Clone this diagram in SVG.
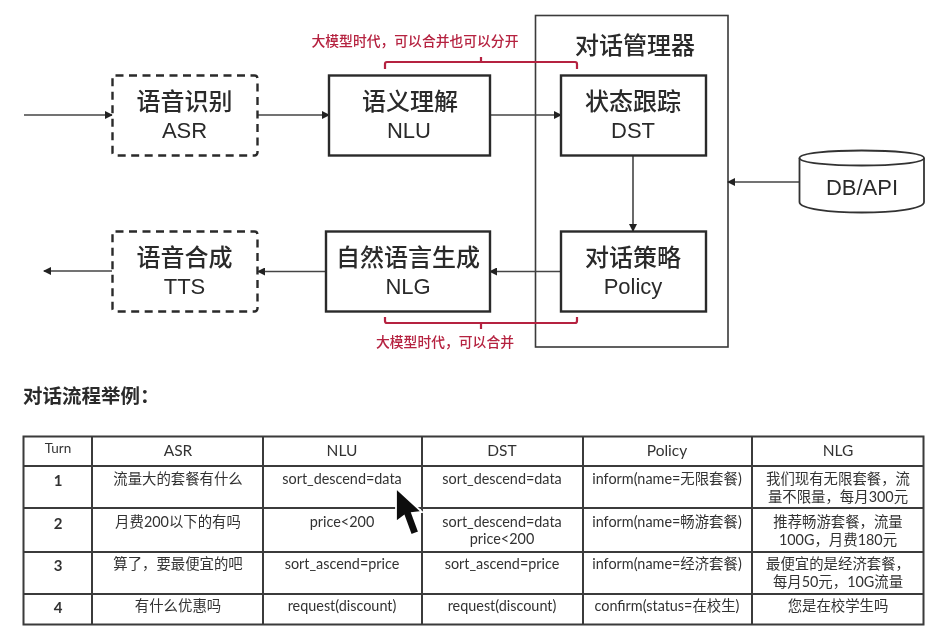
<svg xmlns="http://www.w3.org/2000/svg" width="935" height="642" viewBox="0 0 935 642">
<style>
text{font-family:"Liberation Sans","Noto Sans CJK SC",sans-serif;fill:#2b2b2b;text-anchor:middle}
.n{font-size:24px;font-weight:500}
.e{font-size:22px}
.box{fill:#fff;stroke:#2a2a2a;stroke-width:2.400}
.dash{stroke-dasharray:8 5.500}
.c{fill:none;stroke:#444;stroke-width:1.600}
.r{fill:none;stroke:#b5213f;stroke-width:2.200}
.rt{font-size:13.800px;fill:#b5213f;font-weight:500}
.t{font-family:"Lato","Noto Sans CJK SC",sans-serif;font-size:14.400px;fill:#333}
.h{font-size:15.500px}
.d{font-size:15px;font-weight:bold}
.g{fill:none;stroke:#3a3a3a;stroke-width:2}
</style>
<defs>
<marker id="a" markerWidth="8" markerHeight="8" refX="7" refY="4" orient="auto" markerUnits="userSpaceOnUse"><path d="M0 0L8 4L0 8Z" fill="#222"/></marker>
<filter id="b" x="-2%" y="-2%" width="104%" height="104%"><feGaussianBlur stdDeviation="0.550"/></filter>
</defs>
<g filter="url(#b)">
<g id="dialog-manager"><rect x="535.500" y="15.500" width="192.500" height="331.500" fill="#fff" stroke="#3a3a3a" stroke-width="1.600"/><text class="n" x="635" y="54">对话管理器</text></g>
<g id="connectors">
<path class="c" marker-end="url(#a)" d="M24 115H112"/>
<path class="c" marker-end="url(#a)" d="M258 115H329"/>
<path class="c" marker-end="url(#a)" d="M490 115H561"/>
<path class="c" marker-end="url(#a)" d="M633 155V231"/>
<path class="c" marker-end="url(#a)" d="M561 271.500H490"/>
<path class="c" marker-end="url(#a)" d="M326 271.500H258"/>
<path class="c" marker-end="url(#a)" d="M112 271H44"/>
<path class="c" marker-end="url(#a)" d="M800 182H728"/>
</g>
<g id="merge-top"><path class="r" d="M385 69V64Q385 62 387 62H575Q577 62 577 64V69M481 62V57"/><text class="rt" x="415" y="46">大模型时代，可以合并也可以分开</text></g>
<g id="merge-bottom"><path class="r" d="M385 317V321Q385 323 387 323H575Q577 323 577 321V317M481 323V329"/><text class="rt" x="445" y="347">大模型时代，可以合并</text></g>
<g id="asr"><rect class="box dash" x="112.500" y="75.500" width="145" height="80" rx="3"/><text class="n" x="184.500" y="110">语音识别</text><text class="e" x="184.500" y="138">ASR</text></g>
<g id="nlu"><rect class="box" x="329" y="75.500" width="161" height="80"/><text class="n" x="410" y="110">语义理解</text><text class="e" x="409" y="138">NLU</text></g>
<g id="dst"><rect class="box" x="561" y="75.500" width="145" height="80"/><text class="n" x="633" y="110">状态跟踪</text><text class="e" x="633" y="138">DST</text></g>
<g id="policy"><rect class="box" x="561" y="231.500" width="145" height="80"/><text class="n" x="633" y="266">对话策略</text><text class="e" x="633" y="294">Policy</text></g>
<g id="nlg"><rect class="box" x="326" y="231.500" width="164" height="80"/><text class="n" x="408" y="266">自然语言生成</text><text class="e" x="408" y="294">NLG</text></g>
<g id="tts"><rect class="box dash" x="112.500" y="231.500" width="145" height="80" rx="3"/><text class="n" x="184.500" y="266">语音合成</text><text class="e" x="184.500" y="294">TTS</text></g>
<g id="db"><path fill="#fff" stroke="#333" stroke-width="1.800" d="M799.500 158C799.500 148 924 148 924 158V202C924 216 799.500 216 799.500 202Z"/><path fill="none" stroke="#333" stroke-width="1.800" d="M799.500 158C799.500 168 924 168 924 158"/><text style="font-size:22px" x="862" y="195">DB/API</text></g>
<text x="23" y="403" style="font-size:19.500px;font-weight:bold;text-anchor:start">对话流程举例：</text>
<g id="table">
<rect class="g" x="23.500" y="436.500" width="900" height="188"/>
<path class="g" d="M92 436V625M263 436V625M422 436V625M583 436V625M752 436V625M23 466H924M23 508H924M23 552H924M23 594H924"/>
<g>
<text class="t" style="font-size:13.500px" x="58" y="453">Turn</text><text class="t h" x="178" y="456">ASR</text><text class="t h" x="342" y="456">NLU</text><text class="t h" x="502" y="456">DST</text><text class="t h" x="667" y="456">Policy</text><text class="t h" x="838" y="456">NLG</text>
<text class="t d" x="58" y="486">1</text><text class="t" x="178" y="484">流量大的套餐有什么</text><text class="t" x="342" y="484">sort_descend=data</text><text class="t" x="502" y="484">sort_descend=data</text><text class="t" x="667" y="484">inform(name=无限套餐)</text><text class="t" x="838" y="484">我们现有无限套餐，流</text><text class="t" x="838" y="502">量不限量，每月300元</text>
<text class="t d" x="58" y="529">2</text><text class="t" x="178" y="527">月费200以下的有吗</text><text class="t" x="342" y="527">price&lt;200</text><text class="t" x="502" y="527">sort_descend=data</text><text class="t" x="502" y="544">price&lt;200</text><text class="t" x="667" y="527">inform(name=畅游套餐)</text><text class="t" x="838" y="527">推荐畅游套餐，流量</text><text class="t" x="838" y="545">100G，月费180元</text>
<text class="t d" x="58" y="571">3</text><text class="t" x="178" y="569">算了，要最便宜的吧</text><text class="t" x="342" y="569">sort_ascend=price</text><text class="t" x="502" y="569">sort_ascend=price</text><text class="t" x="667" y="569">inform(name=经济套餐)</text><text class="t" x="838" y="569">最便宜的是经济套餐，</text><text class="t" x="838" y="587">每月50元，10G流量</text>
<text class="t d" x="58" y="613">4</text><text class="t" x="178" y="611">有什么优惠吗</text><text class="t" x="342" y="611">request(discount)</text><text class="t" x="502" y="611">request(discount)</text><text class="t" x="667" y="611">confirm(status=在校生)</text><text class="t" x="838" y="611">您是在校学生吗</text>
</g>
</g>
<path id="cursor" d="M396 488V522L404 516L411 535L419 532L412 513L422 512Z" fill="#111" stroke="#fff" stroke-width="1.800"/>
</g>
</svg>
